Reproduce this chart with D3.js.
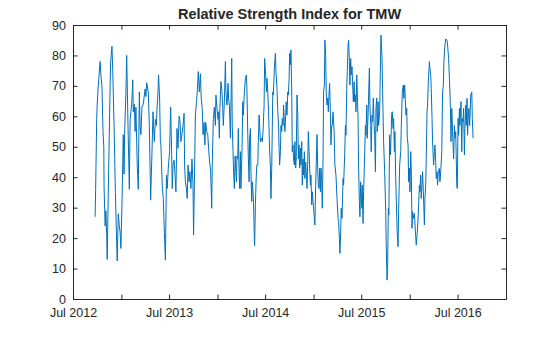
<!DOCTYPE html>
<html><head><meta charset="utf-8">
<script src="https://cdn.jsdelivr.net/npm/d3@7"></script>
<style>
body{margin:0;background:#fff}
svg{display:block}
text{font-family:"Liberation Sans",Arial,Helvetica,sans-serif;fill:#262626}
</style>
</head><body>
<svg id="chart" width="560" height="337"></svg>
<script>
// Days counted from 1 Jul 2012
const dayNumbers = [
84,86,90,92,96,103,106,110,114,117,118,122,125,128,130,135,141,143,148,151,156,161,166,168,172,176,179,182,186,191,194,196,201,204,209,214,217,223,227,229,233,236,239,244,248,252,255,258,262,267,274,277,280,286,290,295,300,
304,306,309,313,317,319,322,325,329,332,334,339,343,347,351,355,358,362,367,371,375,377,380,384,387,391,395,399,403,406,410,414,418,422,424,427,431,434,437,441,444,448,452,456,458,461,465,469,472,476,480,484,487,491,494,498,501,504,508,512,515,519,523,527,529,533,537,541,
543,547,551,553,556,558,562,566,569,571,575,579,581,585,589,591,594,598,600,603,605,608,610,613,616,618,621,623,626,628,631,633,636,638,642,645,647,651,655,659,661,664,666,669,671,674,676,679,681,684,686,689,690,693,695,698,702,704,707,709,712,716,719,722,726,728,732,735,737,740,743,746,750,752,755,759,761,765,769,771,775,778,781,
783,785,788,790,793,795,798,800,803,805,808,810,813,816,818,821,823,826,828,831,833,836,838,841,843,846,848,851,854,856,859,861,864,866,869,871,874,876,879,881,884,886,889,892,894,897,899,902,904,907,909,913,917,919,922,924,927,930,932,935,937,940,942,945,947,950,952,955,957,960,962,965,968,970,973,975,978,980,983,985,988,992,995,999,1003,1007,1009,1012,1014,1017,1019,1022,1024,
1026,1028,1032,1035,1037,1040,1042,1045,1047,1050,1052,1055,1057,1060,1062,1065,1068,1070,1073,1075,1078,1080,1083,1085,1088,1090,1093,1097,1099,1102,1104,1107,1111,1113,1116,1118,1121,1126,1128,1131,1133,1136,1138,1141,1144,1146,1149,1151,1154,1156,1159,1161,1165,1170,1174,1176,1180,1184,1188,1190,1193,1195,1198,1200,1203,1206,1208,1211,1213,1216,1218,1221,1223,1226,1230,1232,1235,1237,1241,1245,1247,1251,1255,1257,1260,
1265,1268,1270,1273,1275,1278,1280,1283,1285,1288,1290,1293,1297,1301,1304,1308,1311,1313,1316,1318,1321,1323,1326,1328,1331,1335,1337,1340,1342,1345,1347,1350,1354,1356,1359,1361,1364,1366,1370,1373,1375,1378,1380,1383,1385,1388,1392,1394,1397,1401,1404,1407,1409,1413,1416,1421,1423,1427,1431,1434,1436,1439,1442,1446,1449,1451,1454,1458,1460,1463,1465,1468,1470,1474,1477,1479,1482,1484,1487,1489,1492,1494,1497,1499,1502,1504,1507,1511,1515,1517,1520
];
const rsiValues = [
27,36,59,64,70,78,73.6,70,55,50,37,24,29,21,13,40,70,78,83,75,57,35,18,12.5,28,24,22,16.6,31,54,41,54,68,80,57,36,59,64,72,61.5,64,55,63,44,36,68,57,54,63,64,69,66.5,71,68,57,32.5,48,
61.5,57,51.7,59,57,62.6,66,73.6,66,51.7,50.6,37.4,33,22,12.8,40.7,36.3,43,48.4,63,47,36.3,44,45.6,41.8,35.2,56,49.5,60,59,51.7,54,57,61,44,38.5,36.3,33,44,38.5,41.8,36.3,46,37.4,21,37.4,60.4,64.8,68,74.7,68,74,66,62.6,54,58,50.6,58,55,54,49.5,45,41.8,29.8,44,59,63,57,
67,62.6,59,61.5,52.8,62.6,71.4,68,62.6,57,64.8,78,68,63.7,70.8,66,63.7,52.8,63.7,79,57,48.4,41.8,36.3,47,43,38.5,47,46,56,41.8,36.3,48.4,36.3,48.4,64.8,60.4,68,72.5,73.6,68,54,47,38.5,52.8,56,41.8,32,38.5,35.2,30.9,20,17.5,30.9,37.4,44,44,51.7,60.4,57,51.7,52.8,51.7,55,63.7,79,73.6,68,72.5,68,61.5,51.7,43,33,43,68,67,75.8,80.7,74.7,69.2,61.5,57,
49.5,44,48.4,57,55,59.3,57,63.7,58,55,60.4,64.8,60.4,68,67,72.5,80.7,76.9,81.8,68,48.4,50.6,46,44,51.7,43,46,67,60.4,46,50.6,43,49.5,44,51.7,37.4,46,40.7,48.4,39.6,45,41.8,36.3,46,55,48.4,43,37.4,40.7,30.9,35.2,30.9,26.5,24.3,37.4,44,54,41.8,37.4,36.3,43,35.2,43,38.5,29.8,46,68,70.3,85,80,68,63.7,66,61.5,68,70.8,60.4,50.6,57,57,61.5,55,44,40.7,33,26.5,25.4,20,15,22,29.8,26.5,33,
39.6,37.4,47,57,53.8,69.2,74.7,83.4,85,78,70.3,79,73.6,76.3,71.4,64.8,71.4,64.8,67,61.5,73.6,68,59.3,43,32,27,38.5,29.8,37.4,24.8,35.2,44,57,53.8,63.7,52.8,60.4,75.8,63.7,57,48.4,60.4,58.2,66,57,53.8,41.8,62.6,66,55,64.8,57,61.5,86.7,79,69.2,51.7,41.8,28.7,17.7,6.2,9,29.8,27.6,53.9,47.3,52.8,61,61.5,56,59.3,48.4,55,39.6,26.5,21,17.2,28.7,44,48.4,56,68,70.3,65.9,70.3,
60.4,62.6,52.8,50.6,38.5,43,35.2,48.4,43,23.2,28.7,26.5,28.1,22,17.7,22,26.5,30.9,37.4,35.2,40.7,33,37.4,41.8,35.2,24.3,33,37.4,46,61.5,63.7,71.4,78,75.8,73.6,69.2,59.3,51.7,44,48.4,50.6,45,39.6,41.8,37.4,41.8,42.9,38.5,41.8,48.4,68,70.3,78,83.4,85.4,85,83.4,79,70.3,62.6,51.7,62.6,55,46,57,52.8,55,37.4,36.3,59.3,53.8,62.6,57,64.8,48.4,59.3,58.2,62.6,47.3,56,63.7,57,65.9,53.8,60.4,62.6,57,67,68,59.3,52.8
];
const xTickDates = ["2012-07-01","2013-01-01","2013-07-01","2014-01-01","2014-07-01","2015-01-01","2015-07-01","2016-01-01","2016-07-01","2017-01-01"];
const yTicks = [0,10,20,30,40,50,60,70,80,90];
const chartTitle = "Relative Strength Index for TMW";

const parse = d3.timeParse("%Y-%m-%d");
const n = Math.min(dayNumbers.length, rsiValues.length);
const data = d3.range(n).map(i => ({date: new Date(2012, 6, 1 + dayNumbers[i]), v: rsiValues[i]}));

const L = 73, R = 506, T = 25, B = 299;
const x = d3.scaleTime().domain([parse("2012-07-01"), parse("2017-01-01")]).range([L, R]);
const y = d3.scaleLinear().domain([0, 90]).range([B, T]);

const svg = d3.select("#chart");
const tickVals = xTickDates.map(parse);
const fmt = d => d.getMonth() === 6 ? d3.timeFormat("%b %Y")(d) : "";

// plot line
svg.append("path").datum(data)
  .attr("fill", "none").attr("stroke", "#0072BD").attr("stroke-width", 1)
  .attr("stroke-linejoin", "round")
  .attr("d", d3.line().x(d => x(d.date)).y(d => y(d.v)));

function style(g){
  g.select(".domain").attr("stroke", "#262626").attr("stroke-width", 1);
  g.selectAll(".tick line").attr("stroke", "#262626");
  g.selectAll("text").attr("font-family", '"Liberation Sans",Arial,sans-serif').attr("font-size", 12.5).attr("fill", "#262626");
}
const tickLen = 4.5;
const gb = svg.append("g").attr("transform", `translate(0,${B})`)
  .call(d3.axisBottom(x).tickValues(tickVals).tickFormat(fmt).tickSizeInner(-tickLen).tickSizeOuter(0).tickPadding(9));
style(gb);
const gt = svg.append("g").attr("transform", `translate(0,${T})`)
  .call(d3.axisTop(x).tickValues(tickVals).tickFormat("").tickSizeInner(-tickLen).tickSizeOuter(0));
style(gt);
const gl = svg.append("g").attr("transform", `translate(${L},0)`)
  .call(d3.axisLeft(y).tickValues(yTicks).tickSizeInner(-tickLen).tickSizeOuter(0).tickPadding(7));
style(gl);
const gr = svg.append("g").attr("transform", `translate(${R},0)`)
  .call(d3.axisRight(y).tickValues(yTicks).tickFormat("").tickSizeInner(-tickLen).tickSizeOuter(0));
style(gr);

svg.append("text").attr("x", (L + R) / 2).attr("y", 19)
  .attr("text-anchor", "middle").attr("font-weight", "bold").attr("font-size", 14.5)
  .text(chartTitle);
</script>
</body></html>
